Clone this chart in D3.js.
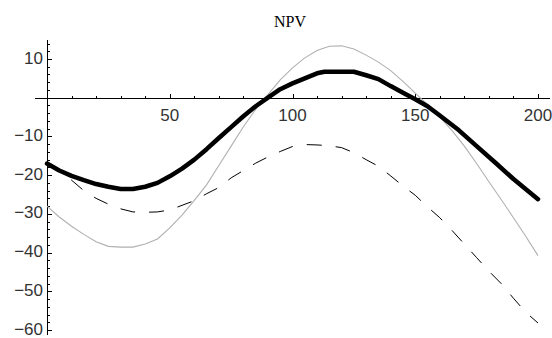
<!DOCTYPE html>
<html>
<head>
<meta charset="utf-8">
<script src="https://cdn.jsdelivr.net/npm/d3@7"></script>
<style>
  html, body { margin: 0; padding: 0; background: #fff; }
  svg { display: block; }
</style>
</head>
<body>
<svg id="chart" width="552" height="338"></svg>
<script>
// ---- data ----
const chartTitle = "NPV";
const xValues = [0,5,10,15,20,25,30,35,40,45,50,55,60,65,70,75,80,85,90,95,100,105,110,115,120,125,130,135,140,145,150,155,160,165,170,175,180,185,190,195,200];
const thickX = [0,5,10,15,20,25,30,35,40,45,50,55,60,65,70,75,80,85,90,95,100,105,110,113,125,130,135,140,145,150,155,160,167,175,183,190,200];
const thickY = [-17,-18.8,-20.2,-21.3,-22.3,-23.0,-23.6,-23.6,-23.0,-22.0,-20.3,-18.3,-16.0,-13.3,-10.4,-7.6,-4.8,-2.2,0.0,2.2,3.7,5.0,6.3,6.7,6.7,5.8,4.8,3.0,1.3,-0.4,-2.2,-4.6,-8.0,-12.5,-17.0,-21.0,-26.2];
const grayY = [-28,-30.8,-33.2,-35.3,-37.2,-38.4,-38.6,-38.6,-37.8,-36.5,-33.6,-30.3,-26.5,-22.5,-17.5,-12.5,-7.5,-3.0,0.8,4.6,7.7,10.3,12.2,13.3,13.4,12.6,11.0,9.2,7.0,4.2,1.2,-1.8,-5.0,-8.5,-12.5,-17.0,-21.7,-26.3,-31.0,-35.8,-40.8];
const dashedY = [-17,-18.7,-21.3,-24.0,-26.0,-27.5,-28.7,-29.5,-29.6,-29.5,-29.0,-27.8,-26.6,-24.8,-23.2,-20.7,-18.8,-16.9,-15.3,-13.9,-12.6,-12.1,-12.2,-12.4,-12.9,-14.2,-16.0,-17.7,-20.2,-22.8,-25.2,-28.2,-31.0,-34.3,-37.8,-41.3,-44.8,-48.0,-51.8,-55.4,-58.2];
const xMajorTicks = [50, 100, 150, 200];
const yMajorTicks = [-60, -50, -40, -30, -20, -10, 10];
const xAxisExtent = [-4.9, 204.9];
const yAxisExtent = [-61.3, 15.0];

// ---- scales ----
const x = d3.scaleLinear().domain([0, 200]).range([47, 538]);
const y = d3.scaleLinear().domain([-60, 10]).range([330, 59]);

const svg = d3.select("#chart");

// title
svg.append("text")
  .attr("x", 290).attr("y", 27)
  .attr("text-anchor", "middle")
  .attr("font-family", "'Liberation Serif', 'Times New Roman', serif")
  .attr("font-size", 16)
  .attr("fill", "#000")
  .text(chartTitle);

// axes lines
const axisG = svg.append("g").attr("stroke", "#000").attr("stroke-width", 1).attr("shape-rendering", "crispEdges");
axisG.append("line")
  .attr("x1", x(xAxisExtent[0])).attr("x2", x(xAxisExtent[1]))
  .attr("y1", Math.round(y(0)) + 0.5).attr("y2", Math.round(y(0)) + 0.5);
axisG.append("line")
  .attr("x1", Math.round(x(0)) + 0.5).attr("x2", Math.round(x(0)) + 0.5)
  .attr("y1", y(yAxisExtent[1])).attr("y2", y(yAxisExtent[0]));

// x ticks
const xMinor = d3.range(10, 200, 10).filter(v => v % 50 !== 0);
const y0 = Math.round(y(0)) + 0.5;
axisG.selectAll(".xmin").data(xMinor).enter().append("line")
  .attr("x1", d => Math.round(x(d)) + 0.5).attr("x2", d => Math.round(x(d)) + 0.5)
  .attr("y1", y0).attr("y2", y0 - 2.5);
axisG.selectAll(".xmaj").data(xMajorTicks).enter().append("line")
  .attr("x1", d => Math.round(x(d)) + 0.5).attr("x2", d => Math.round(x(d)) + 0.5)
  .attr("y1", y0).attr("y2", y0 - 4.5);

// y ticks
const x0 = Math.round(x(0)) + 0.5;
const yMinor = d3.range(-60, 15, 2).filter(v => v % 10 !== 0);
axisG.selectAll(".ymin").data(yMinor).enter().append("line")
  .attr("y1", d => Math.round(y(d)) + 0.5).attr("y2", d => Math.round(y(d)) + 0.5)
  .attr("x1", x0).attr("x2", x0 + 2.5);
axisG.selectAll(".ymaj").data(yMajorTicks).enter().append("line")
  .attr("y1", d => Math.round(y(d)) + 0.5).attr("y2", d => Math.round(y(d)) + 0.5)
  .attr("x1", x0).attr("x2", x0 + 4.5);

// tick labels
const fmt = d => (d < 0 ? "\u2212" + Math.abs(d) : String(d));
const labelFont = "'Liberation Sans', Arial, Helvetica, sans-serif";
svg.selectAll(".xl").data(xMajorTicks).enter().append("text")
  .attr("x", d => x(d)).attr("y", y(0) + 23)
  .attr("text-anchor", "middle")
  .attr("font-family", labelFont).attr("font-size", 17).attr("fill", "#333")
  .text(fmt);
svg.selectAll(".yl").data(yMajorTicks).enter().append("text")
  .attr("x", 43).attr("y", d => y(d) - 1)
  .attr("text-anchor", "end").attr("dominant-baseline", "central")
  .attr("font-family", labelFont).attr("font-size", 17).attr("fill", "#333")
  .text(fmt);

// lines
const line = d3.line().x(d => x(d[0])).y(d => y(d[1]));
svg.append("path")
  .datum(xValues.map((v, i) => [v, grayY[i]]))
  .attr("d", line).attr("fill", "none")
  .attr("stroke", "#b0b0b0").attr("stroke-width", 1.1);
svg.append("path")
  .datum(xValues.map((v, i) => [v, dashedY[i]]))
  .attr("d", line).attr("fill", "none")
  .attr("stroke", "#000").attr("stroke-width", 1)
  .attr("stroke-dasharray", "15,14");
svg.append("path")
  .datum(thickX.map((v, i) => [v, thickY[i]]))
  .attr("d", line).attr("fill", "none")
  .attr("stroke", "#000").attr("stroke-width", 4.5)
  .attr("stroke-linejoin", "round").attr("stroke-linecap", "round");
</script>
</body>
</html>
